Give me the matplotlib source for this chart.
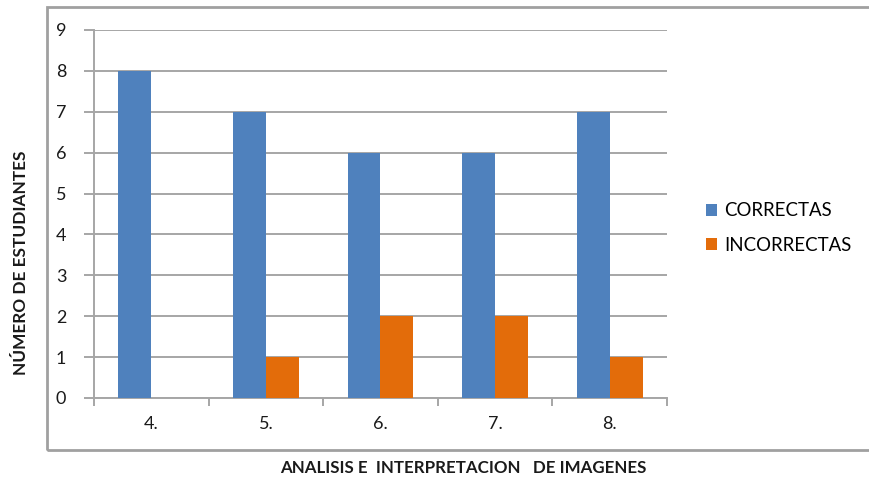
import matplotlib
matplotlib.use("Agg")
import matplotlib.pyplot as plt
from matplotlib.patches import Rectangle
import numpy as np

categories = ["4.", "5.", "6.", "7.", "8."]
correctas = [8, 7, 6, 6, 7]
incorrectas = [0, 1, 2, 2, 1]
series_names = ["CORRECTAS", "INCORRECTAS"]
y_ticks = list(range(0, 10))

blue = "#4f81bd"
orange = "#e36c0a"
grid_grey = "#a6a6a6"

plt.rcParams["font.family"] = ["Lato", "DejaVu Sans"]

fig = plt.figure(figsize=(8.7, 4.8), dpi=100)
ax = fig.add_axes([94 / 870, 1 - 398 / 480, (667 - 94) / 870, (398 - 30) / 480])

# outer chart frame (left, top, bottom edges)
frame = Rectangle((47 / 870, 1 - 450 / 480), 1.0, (450 - 7) / 480,
                  transform=fig.transFigure, fill=False,
                  edgecolor="#a0a0a0", linewidth=2.0, zorder=0)
fig.patches.append(frame)

x = np.arange(len(categories))
w = 0.287
ax.bar(x - w / 2, correctas, w, color=blue, label=series_names[0], zorder=3)
ax.bar(x + w / 2, incorrectas, w, color=orange, label=series_names[1], zorder=3)

ax.set_xlim(-0.5, len(categories) - 0.5)
ax.set_ylim(0, 9)
ax.set_yticks(y_ticks)
ax.set_yticklabels([str(v) for v in y_ticks], fontsize=13, color="#1a1a1a")
ax.set_xticks(x)
ax.set_xticklabels(categories, fontsize=13, color="#1a1a1a")
ax.set_xticks(np.arange(-0.5, len(categories)), minor=True)

ax.yaxis.grid(True, color=grid_grey, linewidth=1.4, zorder=0)
ax.set_axisbelow(True)
for s in ["top", "right"]:
    ax.spines[s].set_visible(False)
for s in ["left", "bottom"]:
    ax.spines[s].set_color(grid_grey)
    ax.spines[s].set_linewidth(1.4)

ax.tick_params(axis="y", length=7, width=1.4, color=grid_grey, pad=13)
ax.tick_params(axis="x", which="major", length=0, pad=13)
ax.tick_params(axis="x", which="minor", length=6, width=1.4, color=grid_grey)

fig.text(463 / 870, 1 - 468 / 480, "ANALISIS E  INTERPRETACION   DE IMAGENES",
         ha="center", va="center", fontsize=12.2, fontweight="bold", color="#1a1a1a")
fig.text(21 / 870, 1 - 263 / 480, "NÚMERO DE ESTUDIANTES", rotation=90,
         ha="center", va="center", fontsize=12.4, fontweight="bold", color="#1a1a1a")

leg = fig.legend(loc="center left", bbox_to_anchor=(689 / 870, 1 - 228 / 480),
                 frameon=False, fontsize=13.4, handlelength=0.6, handleheight=0.6,
                 handletextpad=0.4, labelspacing=0.95)

fig.savefig("out.png", dpi=100)
